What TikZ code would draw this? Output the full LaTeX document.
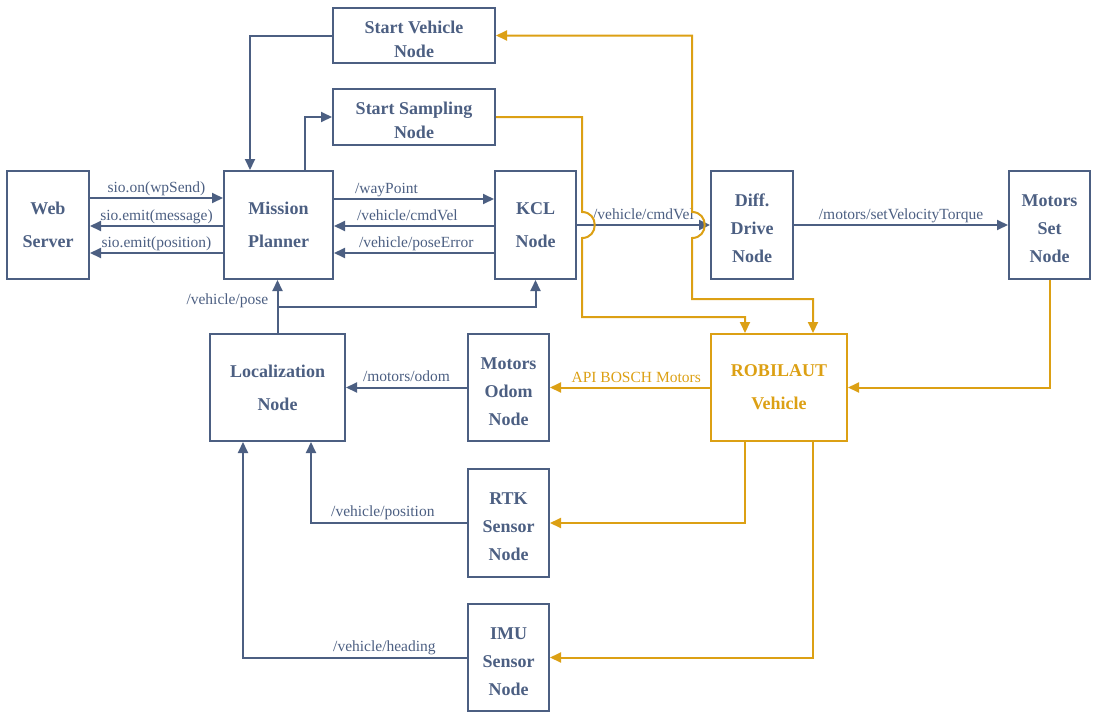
\documentclass[tikz,border=0pt]{standalone}
\usepackage{fontspec}
\setmainfont{Liberation Serif}
\usetikzlibrary{arrows.meta}
\definecolor{cb}{RGB}{76,95,130}
\definecolor{co}{RGB}{220,160,20}
\newcommand\upthree{\rule{0pt}{19.5pt}}
\newcommand\uptwo{\rule{0pt}{20pt}}
\begin{document}
\begin{tikzpicture}[x=1pt,y=-1pt,
  box/.style={draw=cb, line width=2pt, text=cb, align=center, inner sep=0pt,
    font=\fontsize{18}{33}\selectfont\bfseries},
  three/.style={font=\fontsize{18}{28}\selectfont\bfseries},
  twos/.style={font=\fontsize{18}{24}\selectfont\bfseries},
  obox/.style={box, draw=co, text=co},
  lbl/.style={text=cb, font=\fontsize{15.5}{18}\selectfont, inner sep=0pt, anchor=base},
  olbl/.style={lbl, text=co},
  ab/.style={draw=cb, line width=2pt, -{Triangle[length=11pt,width=10pt]}},
  ao/.style={draw=co, line width=2pt, -{Triangle[length=11pt,width=10pt]}},
  aoo/.style={draw=co, line width=2pt, {Triangle[length=11pt,width=10pt]}-{Triangle[length=11pt,width=10pt]}},
]
\useasboundingbox (0,0) rectangle (1093,712);

% nodes
\node[box, minimum width=82pt, minimum height=108pt] (web) at (48,225) {Web\\Server};
\node[box, minimum width=109pt, minimum height=108pt] (mp) at (278.5,225) {Mission\\Planner};
\node[box, twos, minimum width=162pt, minimum height=55pt] (sv) at (414,35.5) {\uptwo Start Vehicle\\Node};
\node[box, twos, minimum width=162pt, minimum height=56pt] (ss) at (414,117) {\uptwo Start Sampling\\Node};
\node[box, minimum width=81pt, minimum height=108pt] (kcl) at (535.5,225) {KCL\\Node};
\node[box, three, minimum width=82pt, minimum height=108pt] (diff) at (752,225) {\upthree Diff.\\Drive\\Node};
\node[box, three, minimum width=81pt, minimum height=108pt] (ms) at (1049.5,225) {\upthree Motors\\Set\\Node};
\node[box, minimum width=135pt, minimum height=107pt] (loc) at (277.5,387.5) {Localization\\Node};
\node[box, three, minimum width=81pt, minimum height=107pt] (mo) at (508.5,387.5) {\upthree Motors\\Odom\\Node};
\node[obox, minimum width=136pt, minimum height=107pt] (rob) at (779,387.5) {ROBILAUT\\Vehicle};
\node[box, three, minimum width=81pt, minimum height=108pt] (rtk) at (508.5,523) {\upthree RTK\\Sensor\\Node};
\node[box, three, minimum width=81pt, minimum height=107pt] (imu) at (508.5,657.5) {\upthree IMU\\Sensor\\Node};

% blue connectors
\draw[ab] (web.east |- 0,198) -- node[lbl, yshift=6pt] (l1) {sio.on(wpSend)} (mp.west |- 0,198);
\draw[ab] (mp.west |- 0,226) -- node[lbl, yshift=6pt] (l2) {sio.emit(message)} (web.east |- 0,226);
\draw[ab] (mp.west |- 0,253) -- node[lbl, yshift=6pt] (l3) {sio.emit(position)} (web.east |- 0,253);

\draw[ab] (mp.east |- 0,199) -- node[lbl, pos=0, anchor=base west, xshift=20pt, yshift=6pt] (l4) {/wayPoint} (kcl.west |- 0,199);
\draw[ab] (kcl.west |- 0,226) -- node[lbl, pos=1, anchor=base west, xshift=22pt, yshift=6pt] (l5) {/vehicle/cmdVel} (mp.east |- 0,226);
\draw[ab] (kcl.west |- 0,253) -- node[lbl, pos=1, anchor=base west, xshift=24pt, yshift=6pt] (l6) {/vehicle/poseError} (mp.east |- 0,253);

\draw[ab] (sv.west) -| (250,0 |- mp.north);
\draw[ab] (305,0 |- mp.north) |- (ss.west);

\draw[ab] (kcl.east) -- node[lbl, yshift=6pt] (l7) {/vehicle/cmdVel} (diff.west);
\draw[ab] (diff.east) -- node[lbl, yshift=6pt] (l8) {/motors/setVelocityTorque} (ms.west);

\draw[ab] (loc.north) -- (loc.north |- mp.south);
\draw[ab] (loc.north |- 0,307) -| (kcl.south);
\path (loc.north |- 0,304) node[lbl, anchor=base east, xshift=-9pt] (l9) {/vehicle/pose};

\draw[ab] (mo.west) -- node[lbl, yshift=6pt] (l10) {/motors/odom} (loc.east);
\draw[ab] (rtk.west) -| (311,0 |- loc.south);
\node[lbl, anchor=base west] (l11) at (331,516.5) {/vehicle/position};
\draw[ab] (imu.west) -| (243,0 |- loc.south);
\node[lbl, anchor=base west] (l12) at (333,651) {/vehicle/heading};

% orange connectors
\draw[ao] (rob.west) -- (mo.east);
\node[olbl, anchor=base east] (l13) at (701,382.5) {API BOSCH Motors};
\draw[ao] (745,0 |- rob.south) |- (rtk.east);
\draw[ao] (813,0 |- rob.south) |- (imu.east);
\draw[ao] (ms.south) |- (rob.east);

\draw[ao] (ss.east) -| (582,212) .. controls (599,212) and (599,238) .. (582,238)
  |- (745,317) -- (745,0 |- rob.north);
\draw[aoo] (sv.east) -| (692,212) .. controls (709,212) and (709,238) .. (692,238)
  |- (813,299) -- (813,0 |- rob.north);
\end{tikzpicture}
\end{document}
